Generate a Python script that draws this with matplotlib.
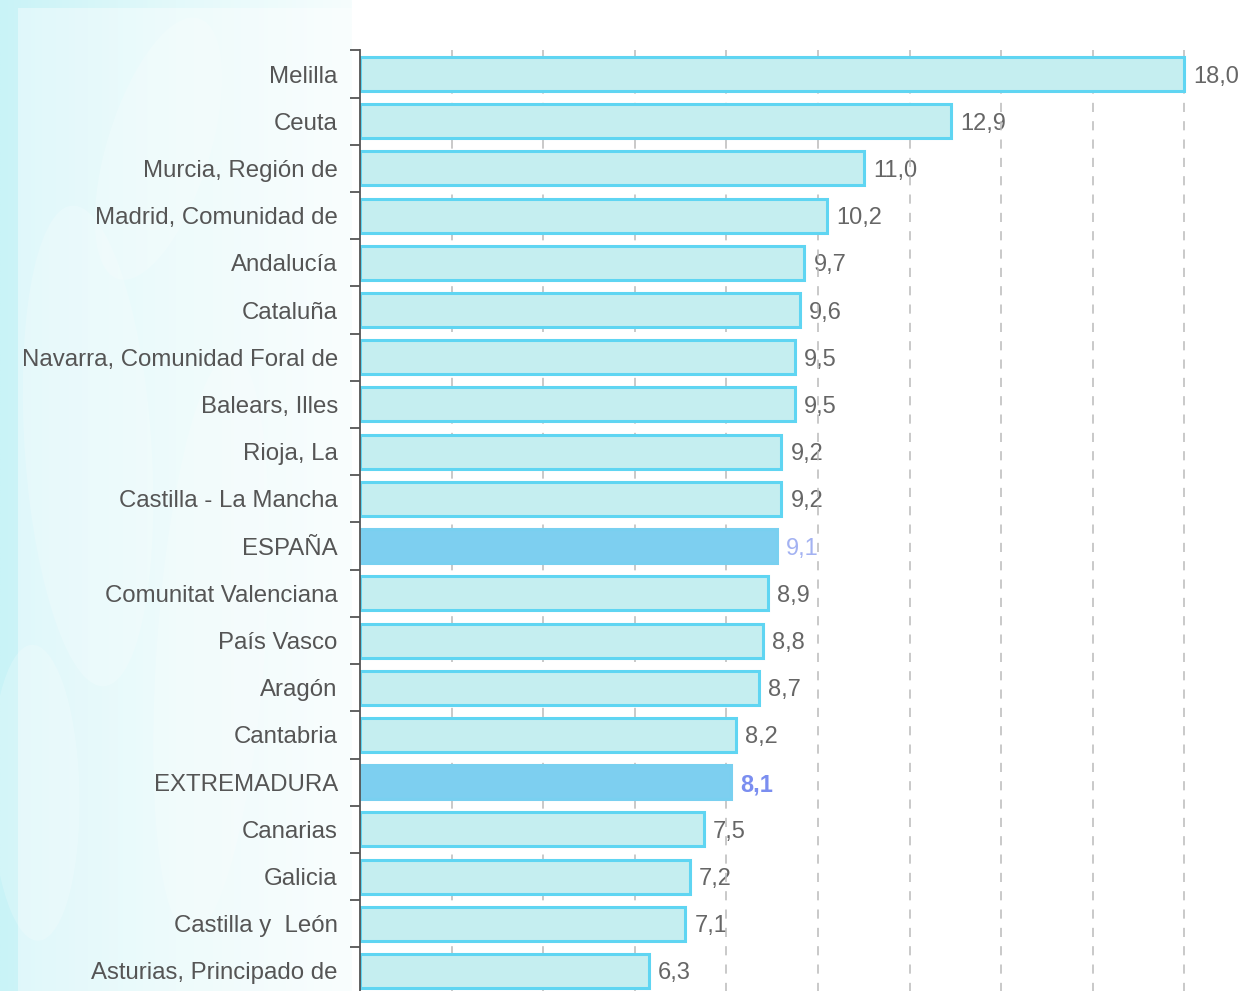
import numpy as np
import matplotlib
matplotlib.use("Agg")
import matplotlib.pyplot as plt
from matplotlib.patches import Ellipse

# Datos
regiones = ["Melilla", "Ceuta", "Murcia, Región de", "Madrid, Comunidad de",
            "Andalucía", "Cataluña", "Navarra, Comunidad Foral de", "Balears, Illes",
            "Rioja, La", "Castilla - La Mancha", "ESPAÑA", "Comunitat Valenciana",
            "País Vasco", "Aragón", "Cantabria", "EXTREMADURA", "Canarias",
            "Galicia", "Castilla y  León", "Asturias, Principado de"]
valores = [18.0, 12.9, 11.0, 10.2, 9.7, 9.6, 9.5, 9.5, 9.2, 9.2, 9.1,
           8.9, 8.8, 8.7, 8.2, 8.1, 7.5, 7.2, 7.1, 6.3]
destacadas = ["ESPAÑA", "EXTREMADURA"]

plt.rcParams['font.family'] = ['Liberation Sans', 'DejaVu Sans']

fig = plt.figure(figsize=(12.5, 9.91), dpi=100)
fig.patch.set_facecolor('white')

# Fondo decorativo a la izquierda
bg = fig.add_axes([0, 0, 352 / 1250, 1], zorder=-10)
grad = np.linspace(0, 1, 200)[None, :]
bg.imshow(np.repeat(grad, 10, axis=0), aspect='auto', extent=[0, 1, 0, 1],
          cmap=matplotlib.colors.LinearSegmentedColormap.from_list(
              'fondo', ['#c9f3f7', '#e3f9fa', '#f6fdfd']))
for (cx, cy, w, h, a) in [(0.25, 0.55, 0.35, 0.5, 20), (0.6, 0.35, 0.3, 0.6, -15),
                          (0.1, 0.2, 0.25, 0.3, 10), (0.45, 0.85, 0.4, 0.2, 30)]:
    bg.add_patch(Ellipse((cx, cy), w, h, angle=a, color='white', alpha=0.2, lw=0))
bg.add_patch(plt.Rectangle((0.05, 0), 0.95, 0.992, color='white', alpha=0.4, lw=0))
bg.set_xlim(0, 1)
bg.set_ylim(0, 1)
bg.axis('off')

ax = fig.add_axes([360 / 1250, -3.6 / 991, 890 / 1250, (994.6 - 50.4) / 991])
ax.patch.set_alpha(0)

y = np.arange(len(regiones))
fill = ['#7dcff0' if r in destacadas else '#c5eef0' for r in regiones]
edge = ['#79d0f0' if r in destacadas else '#5fd5f2' for r in regiones]
ax.barh(y, valores, height=0.72, color=fill, edgecolor=edge, linewidth=2.2, zorder=3)

for i, (r, v) in enumerate(zip(regiones, valores)):
    txt = f"{v:.1f}".replace('.', ',')
    if r == "EXTREMADURA":
        ax.text(v + 0.2, i, txt, va='center_baseline', ha='left', fontsize=17,
                color='#7b8ef0', fontweight='bold', zorder=1)
    elif r == "ESPAÑA":
        ax.text(v + 0.2, i, txt, va='center_baseline', ha='left', fontsize=17,
                color='#a3b2f2', zorder=1)
    else:
        ax.text(v + 0.2, i, txt, va='center_baseline', ha='left', fontsize=17,
                color='#666666', zorder=1)

ax.set_xlim(0, 19.43)
ax.set_ylim(len(regiones) - 0.5, -0.5)
ax.set_xticks(np.arange(2, 19, 2))
ax.xaxis.grid(True, linestyle=(0, (6, 6)), color='#bbbbbb', linewidth=1.1, zorder=2)
ax.set_axisbelow(False)
ax.tick_params(axis='x', length=0, labelbottom=False)

ax.set_yticks(y)
ax.set_yticklabels(regiones, fontsize=17.3, color='#555555')
ax.tick_params(axis='y', length=0, pad=16)
ax.set_yticks(np.arange(-0.5, len(regiones), 1), minor=True)
ax.tick_params(axis='y', which='minor', length=7, width=1.3, color='#555555')

for s in ['top', 'right', 'bottom']:
    ax.spines[s].set_visible(False)
ax.spines['left'].set_color('#555555')
ax.spines['left'].set_linewidth(1.3)
ax.spines['left'].set_zorder(5)

fig.savefig('out.png', dpi=100)
